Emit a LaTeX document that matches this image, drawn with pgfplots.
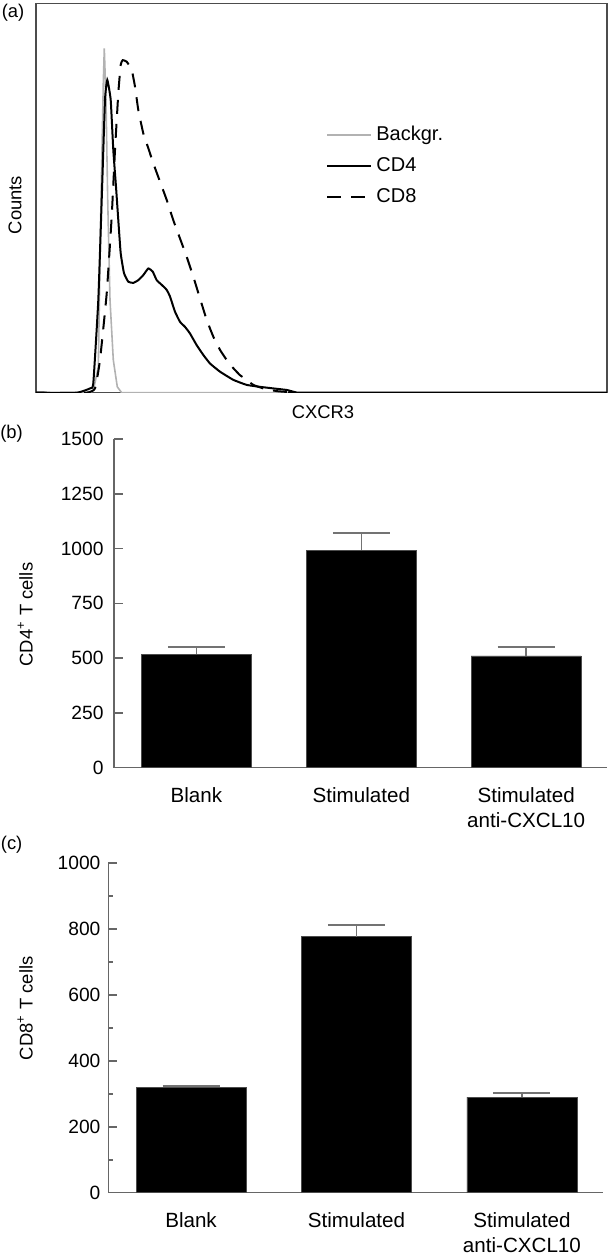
\documentclass[border=0pt]{standalone}
\usepackage{fontspec}
\setmainfont{Liberation Sans}
\usepackage{pgfplots}
\pgfplotsset{compat=1.18}
\pgfplotsset{/pgf/number format/assume math mode=true,
  /pgf/number format/1000 sep={}}

\begin{document}
\fontsize{9.2}{11}\selectfont
\begin{tikzpicture}
\useasboundingbox (0pt,0pt) rectangle (305pt,627pt);

% ---------------- panel (a) ----------------
\begin{axis}[
  at={(18pt,430.65pt)}, anchor=south west, scale only axis,
  width=285.5pt, height=194.7pt,
  xmin=0, xmax=571, ymin=0, ymax=100,
  xtick=\empty, ytick=\empty,
  axis line style={black!70, line width=0.6pt},
  legend style={at={(axis cs:290,69.5)}, anchor=north west, draw=none, fill=none,
                inner sep=0pt, row sep=3pt,
                nodes={font=\fontsize{10}{12}\selectfont}},
  legend cell align=left,
  legend image code/.code={\draw[#1] (0pt,0pt) -- (22pt,0pt);},
]
\addplot[black!30, line width=0.8pt] coordinates {
 (0,0) (54,0) (57.3,0.5) (62.3,6.6) (65,49.5) (67.3,79.5) (68.3,88.4)
 (70,75) (71.7,49.5) (74,23.8) (77.3,8.4) (81.3,1.5) (85.7,0) (571,0)};
\addlegendentry{Backgr.}
\addplot[black, line width=1pt, smooth, tension=0.25] coordinates {
 (0,0) (40.7,0) (54,1.1) (57.3,2.4) (62.3,23.8) (65.7,49.5) (69,75.2) (71.3,80.3)
 (74.7,75.2) (77.3,62.3) (80,52.9) (82.3,44.3) (84.7,35.8) (88,30.7)
 (92.3,28.5) (97.3,28.2) (102.3,28.9) (107.3,30.2) (112.3,31.9) (116.7,31.1)
 (120.7,28.9) (125.7,27.7) (130.7,26.4) (134,24.7) (139,20.8) (144,18.2)
 (149,16.9) (154,15.2) (160.7,12.2) (167.3,9.7) (174,7.5) (184,5.4)
 (197.3,3.3) (210.7,2.0) (224,1.5) (237.3,1.1) (250.7,0.7) (257.3,0.26) (265,0) (571,0)};
\addlegendentry{CD4}
\addplot[black, line width=1pt, dash pattern=on 7pt off 5pt, smooth, tension=0.25] coordinates {
 (0,0) (50,0) (59,1.1) (64,8.4) (70.7,25.5) (75.7,45.2) (79,62.3) (82.3,76.9)
 (84.7,84.2) (86.7,85.4) (90.7,85.0) (95.7,82.9) (99,78.6) (102.3,72.6)
 (107.3,66.6) (112.3,62.8) (117.3,58.9) (124,54.2) (130.7,49.5) (137.3,44.3)
 (144,39.6) (150.7,34.9) (157.3,29.8) (164,24.2) (170.7,18.7) (177.3,14.4)
 (184,11.0) (190.7,8.4) (197.3,6.3) (204,4.5) (210.7,3.3) (217.3,2.0)
 (227.3,1.1) (240.7,0.4) (250.7,0.2) (260,0)};
\addlegendentry{CD8}
\end{axis}

% ---------------- panel (b) ----------------
\begin{axis}[
  at={(57pt,243.15pt)}, anchor=south west, scale only axis,
  width=246.5pt, height=164.35pt,
  xmin=-0.5, xmax=2.49, ymin=0, ymax=1500,
  axis x line=bottom, axis y line=left,
  axis line style={-, black!60, line width=0.8pt},
  ytick={0,250,500,750,1000,1250,1500},
  yticklabel style={font=\fontsize{9.6}{11}\selectfont, xshift=-2pt},
  xtick={0,1,2},
  xticklabels={Blank, Stimulated, {Stimulated\\anti-CXCL10}},
  xticklabel style={align=center, yshift=-2pt, font=\fontsize{10.3}{12.5}\selectfont},
  major x tick style={draw=none},
  tick align=inside, major tick length=4.5pt,
  y tick style={black!60, line width=0.8pt},
  ylabel={CD4\textsuperscript{+} T cells},
  ylabel style={at={(axis description cs:-0.18,0.466)}, anchor=center},
  ybar, bar width=55pt,
]
\addplot[fill=black, draw=black!70, line width=0.4pt,
  error bars/.cd, y dir=plus, y explicit,
  error bar style={black!55, line width=0.8pt},
  error mark options={rotate=90, mark size=14.25pt, black!55, line width=0.8pt}]
  coordinates {(0,518) +- (0,33) (1,993) +- (0,77) (2,510) +- (0,42)};
\end{axis}

% ---------------- panel (c) ----------------
\begin{axis}[
  at={(54.15pt,30.65pt)}, anchor=south west, scale only axis,
  width=247.35pt, height=164.7pt,
  xmin=-0.5, xmax=2.49, ymin=0, ymax=1000,
  axis x line=bottom, axis y line=left,
  axis line style={-, black!60, line width=0.8pt},
  ytick={0,200,400,600,800,1000},
  yticklabel style={font=\fontsize{9.6}{11}\selectfont, xshift=-0.7pt},
  minor y tick num=1,
  xtick={0,1,2},
  xticklabels={Blank, Stimulated, {Stimulated\\anti-CXCL10}},
  xticklabel style={align=center, yshift=-2pt, font=\fontsize{10.3}{12.5}\selectfont},
  major x tick style={draw=none},
  tick align=inside, major tick length=4.5pt, minor tick length=2.5pt,
  y tick style={black!60, line width=0.8pt},
  ylabel={CD8\textsuperscript{+} T cells},
  ylabel style={at={(axis description cs:-0.168,0.56)}, anchor=center},
  ybar, bar width=55pt,
]
\addplot[fill=black, draw=black!70, line width=0.4pt,
  error bars/.cd, y dir=plus, y explicit,
  error bar style={black!55, line width=0.8pt},
  error mark options={rotate=90, mark size=14.25pt, black!55, line width=0.8pt}]
  coordinates {(0,320) +- (0,4) (1,777) +- (0,36) (2,290) +- (0,12)};
\end{axis}

% ---------------- labels ----------------
\node at (6.5pt,620.5pt) {(a)};
\node[rotate=90] at (7.5pt,524.5pt) {Counts};
\node at (161.5pt,421pt) {CXCR3};
\node at (5.8pt,410.3pt) {(b)};
\node at (5.8pt,204.5pt) {(c)};
\end{tikzpicture}
\end{document}
